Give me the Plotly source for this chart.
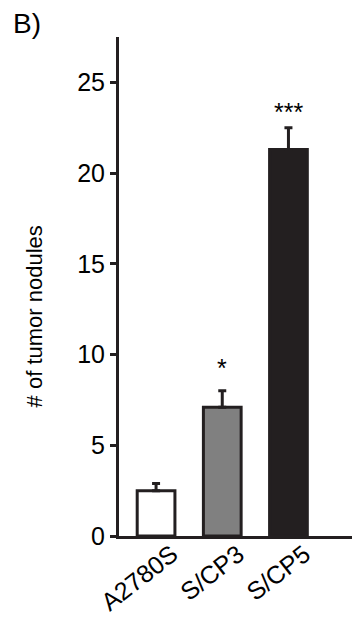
import plotly.graph_objects as go

categories = ["A2780S", "S/CP3", "S/CP5"]
values = [2.5, 7.1, 21.3]
errors = [0.4, 0.9, 1.2]
significance = ["", "*", "***"]
bar_colors = ["#ffffff", "#808080", "#231f20"]
y_ticks = [0, 5, 10, 15, 20, 25]

# layout-only constants
star_offsets_px = [0, 7, 0]
ink = "#231f20"
font_family = "Liberation Sans, Arial, sans-serif"

fig = go.Figure()
fig.add_trace(go.Bar(
    x=list(range(len(categories))),
    y=values,
    width=0.57,
    marker=dict(color=bar_colors, line=dict(color=ink, width=3)),
    error_y=dict(type="data", array=errors, arrayminus=[0] * len(errors),
                 symmetric=False, color=ink, thickness=3, width=4),
    showlegend=False,
    hoverinfo="skip",
))

for i, (v, e, s, off) in enumerate(zip(values, errors, significance, star_offsets_px)):
    if s:
        fig.add_annotation(x=i, y=v + e, text=s, showarrow=False,
                           yanchor="bottom", yshift=off,
                           font=dict(size=25, color="#000", family=font_family))

fig.add_annotation(xref="paper", yref="paper", x=-0.365, y=0.44,
                   text="# of tumor nodules", textangle=-90, showarrow=False,
                   xanchor="center", yanchor="middle",
                   font=dict(size=22, color="#000", family=font_family))

fig.add_annotation(xref="paper", yref="paper", x=-0.395, y=1.0, yshift=14,
                   text="B)", showarrow=False, xanchor="center", yanchor="middle",
                   font=dict(size=28, color="#000", family=font_family))

fig.update_layout(
    width=352, height=617,
    margin=dict(l=119, r=0, t=37, b=81),
    plot_bgcolor="white", paper_bgcolor="white",
    font=dict(family=font_family, color="#000"),
    xaxis=dict(range=[-0.56, 2.96], tickmode="array",
               tickvals=list(range(len(categories))), ticktext=categories,
               tickangle=-38, ticks="", showline=True, linecolor=ink, linewidth=3,
               ticklabelshift=16, ticklabelstandoff=-9,
               showgrid=False, zeroline=False, tickfont=dict(size=25, color="#000")),
    yaxis=dict(range=[0, 27.5], tickvals=y_ticks, ticks="outside", ticklen=6,
               tickwidth=3, tickcolor=ink, showline=True, linecolor=ink, linewidth=3,
               showgrid=False, zeroline=False, tickfont=dict(size=25, color="#000")),
)

fig.write_html("out.html", config={"displayModeBar": False},
               post_script="document.body.style.margin='0';document.body.style.overflow='hidden';")
